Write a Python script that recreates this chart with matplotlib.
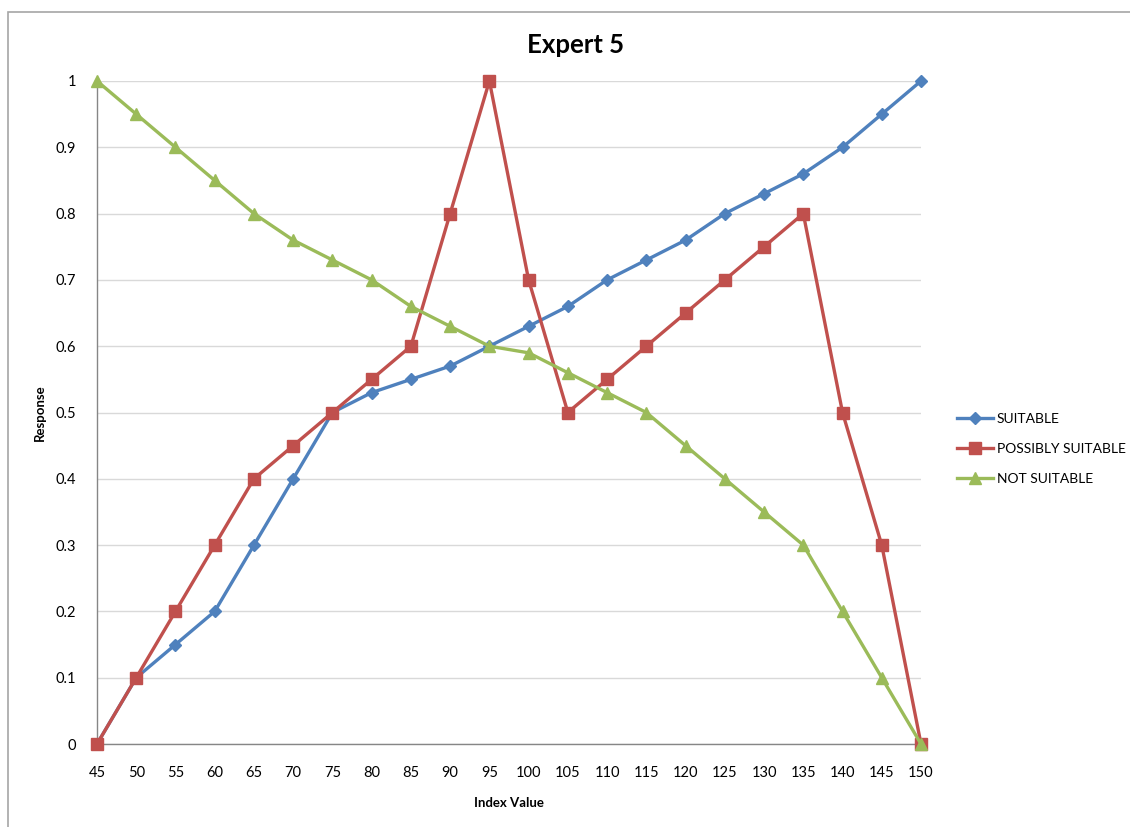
import matplotlib
matplotlib.use("Agg")
import matplotlib.pyplot as plt
from matplotlib.patches import Rectangle

plt.rcParams['font.family'] = ['Lato', 'DejaVu Sans']

index_values = [45, 50, 55, 60, 65, 70, 75, 80, 85, 90, 95, 100, 105, 110, 115, 120, 125, 130, 135, 140, 145, 150]
suitable = [0, 0.1, 0.15, 0.2, 0.3, 0.4, 0.5, 0.53, 0.55, 0.57, 0.6, 0.63, 0.66, 0.7, 0.73, 0.76, 0.8, 0.83, 0.86, 0.9, 0.95, 1.0]
possibly_suitable = [0, 0.1, 0.2, 0.3, 0.4, 0.45, 0.5, 0.55, 0.6, 0.8, 1.0, 0.7, 0.5, 0.55, 0.6, 0.65, 0.7, 0.75, 0.8, 0.5, 0.3, 0]
not_suitable = [1.0, 0.95, 0.9, 0.85, 0.8, 0.76, 0.73, 0.7, 0.66, 0.63, 0.6, 0.59, 0.56, 0.53, 0.5, 0.45, 0.4, 0.35, 0.3, 0.2, 0.1, 0]
y_ticks = [0, 0.1, 0.2, 0.3, 0.4, 0.5, 0.6, 0.7, 0.8, 0.9, 1]
y_tick_labels = ['0', '0.1', '0.2', '0.3', '0.4', '0.5', '0.6', '0.7', '0.8', '0.9', '1']

W, H = 1130, 827
fig = plt.figure(figsize=(W / 100, H / 100), dpi=100)

# chart area frame
fig.patches.append(Rectangle((8 / W, -0.1), 1.2, 1 - 12 / H + 0.1, transform=fig.transFigure,
                             fill=False, edgecolor='#a6a6a6', linewidth=1.2))

ax = fig.add_axes([97 / W, 1 - 744 / H, (921 - 97) / W, (744 - 81) / H])

series = [
    ('SUITABLE', suitable, '#4F81BD', 'D', 6),
    ('POSSIBLY SUITABLE', possibly_suitable, '#C0504D', 's', 8),
    ('NOT SUITABLE', not_suitable, '#9BBB59', '^', 9),
]
handles = []
for name, vals, col, mk, ms in series:
    ln, = ax.plot(index_values, vals, color=col, lw=2.4, marker=mk, markersize=ms,
                  markeredgecolor=col, markerfacecolor=col, clip_on=False, zorder=3, label=name)
    handles.append(ln)

ax.set_xlim(45, 150)
ax.set_ylim(0, 1)
ax.set_xticks(index_values)
ax.set_xticklabels([str(v) for v in index_values], fontsize=10.5)
ax.set_yticks(y_ticks)
ax.set_yticklabels(y_tick_labels, fontsize=10.5)
ax.tick_params(axis='x', length=0, pad=16)
ax.tick_params(axis='y', length=0, pad=15)
ax.grid(axis='y', color='#d9d9d9', linewidth=1)
ax.set_axisbelow(True)
for s in ['top', 'right']:
    ax.spines[s].set_visible(False)
for s in ['left', 'bottom']:
    ax.spines[s].set_color('#868686')
    ax.spines[s].set_linewidth(1)

fig.text(576 / W, 1 - 45 / H, 'Expert 5', ha='center', va='center', fontsize=18.5, fontweight='bold')
fig.text(509 / W, 1 - 803 / H, 'Index Value', ha='center', va='center', fontsize=9.5, fontweight='bold')
fig.text(40 / W, 1 - 413 / H, 'Response', ha='center', va='center', rotation=90, fontsize=9.5, fontweight='bold')

leg = fig.legend(handles=handles, loc='center left', bbox_to_anchor=(951 / W, 1 - 449 / H),
                 frameon=False, fontsize=10, handlelength=2.6, handletextpad=0.3, labelspacing=1.3,
                 borderaxespad=0)

fig.savefig('out.png', dpi=100)
